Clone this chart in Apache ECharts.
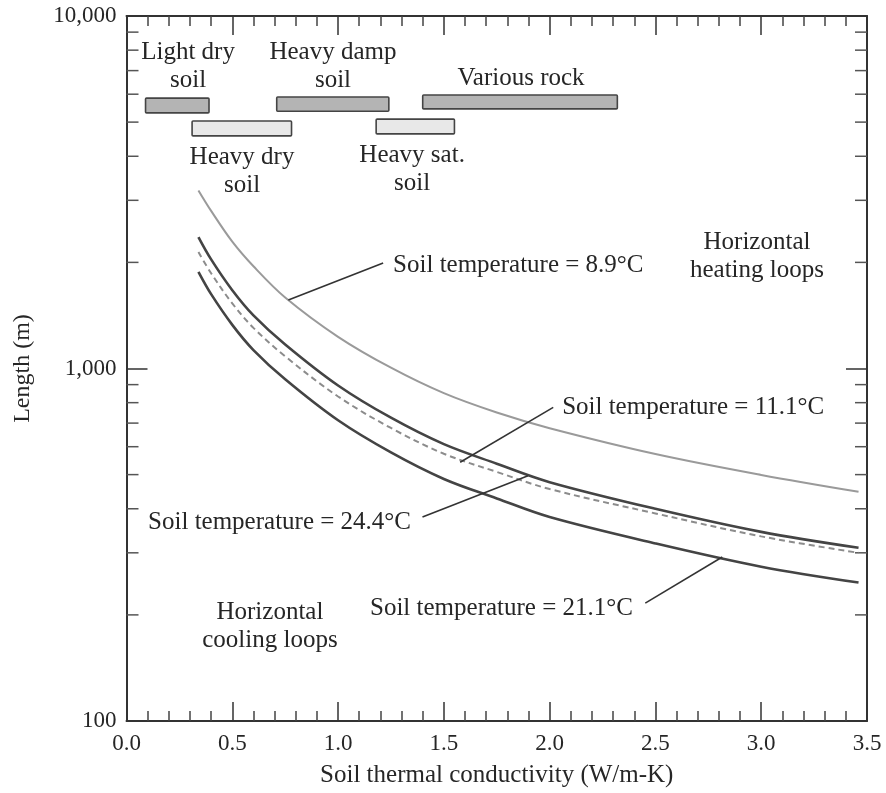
<!DOCTYPE html>
<html>
<head>
<meta charset="utf-8">
<script src="https://cdn.jsdelivr.net/npm/echarts@6/dist/echarts.min.js"></script>
<style>
  html, body { margin: 0; padding: 0; background: #fff; }
  #chart { width: 886px; height: 793px; }
</style>
</head>
<body>
<div id="chart"></div>
<script>
// conductivity (W/m-K) where the curves are read
const conductivity = [0.34, 0.4, 0.5, 0.6, 0.75, 1.0, 1.25, 1.5, 1.75, 2.0, 2.5, 3.0, 3.46];
// loop length (m) for each soil temperature
const len89 = [3200, 2800, 2290, 1950, 1590, 1230, 1005, 851, 750, 677, 572, 499, 447];
const len111 = [2360, 2040, 1668, 1415, 1170, 895, 725, 610, 537, 476, 400, 344, 310];
const len244 = [2140, 1863, 1530, 1304, 1083, 833, 678, 573, 509, 455, 388, 334, 300];
const len211 = [1880, 1625, 1330, 1128, 932, 713, 578, 486, 428, 379, 319, 274, 247];

// soil / rock conductivity ranges drawn as bars near the top
const soilStart = [0.09, 0.31, 0.71, 1.18, 1.40];
const soilEnd = [0.39, 0.78, 1.24, 1.55, 2.32];
const soilLow = [5310, 4570, 5370, 4630, 5450];
const soilHigh = [5850, 5035, 5890, 5100, 5970];
const soilDark = [true, false, true, false, true];

const yTickLabels = { 100: '100', 1000: '1,000', 10000: '10,000' };
const yMinorTicks = [200, 300, 400, 500, 600, 700, 800, 900, 2000, 3000, 4000, 5000, 6000, 7000, 8000, 9000];

// text notes: [x, y, text, align]
const notes = [
  [0.291, 7210, 'Light dry\nsoil', 'center'],
  [0.976, 7210, 'Heavy damp\nsoil', 'center'],
  [1.865, 6670, 'Various rock', 'center'],
  [0.546, 3630, 'Heavy dry\nsoil', 'center'],
  [1.350, 3680, 'Heavy sat.\nsoil', 'center'],
  [2.980, 2085, 'Horizontal\nheating loops', 'center'],
  [0.678, 186, 'Horizontal\ncooling loops', 'center'],
  [1.260, 1955, 'Soil temperature = 8.9°C', 'left'],
  [2.059, 773, 'Soil temperature = 11.1°C', 'left'],
  [0.102, 367, 'Soil temperature = 24.4°C', 'left'],
  [1.151, 209, 'Soil temperature = 21.1°C', 'left']
];

// leader lines from the notes to the curves
const leaders = [
  [[0.765, 1565], [1.213, 1992]],
  [[2.017, 776], [1.577, 542]],
  [[1.399, 379], [1.898, 496]],
  [[2.452, 216], [2.816, 292]]
];

const FONT = 'Liberation Serif';
const INK = '#262626';

const pairs = (ys) => conductivity.map((x, i) => [x, ys[i]]);

const curve = (name, ys, color, width, type) => ({
  name,
  type: 'line',
  data: pairs(ys),
  smooth: 0.35,
  symbol: 'none',
  lineStyle: { color, width, type },
  z: 3
});

const xAxisBase = {
  type: 'value',
  min: 0,
  max: 3.5,
  interval: 0.5,
  axisLine: { show: true, onZero: false, lineStyle: { color: '#333', width: 2 } },
  axisTick: { show: true, inside: true, length: 19, lineStyle: { color: '#333', width: 1.5 } },
  minorTick: { show: true, splitNumber: 5, length: 10, lineStyle: { color: '#444', width: 1.5 } },
  splitLine: { show: false }
};

const yAxisBase = {
  type: 'log',
  logBase: 10,
  min: 100,
  max: 10000,
  axisLine: { show: true, onZero: false, lineStyle: { color: '#333', width: 2 } },
  axisTick: { show: true, inside: true, length: 21, lineStyle: { color: '#333', width: 1.5 } },
  minorTick: { show: false },
  splitLine: { show: false }
};

const option = {
  animation: false,
  backgroundColor: '#fff',
  grid: { left: 126.5, right: 19, top: 16, bottom: 72 },
  xAxis: [
    Object.assign({}, xAxisBase, {
      position: 'bottom',
      name: 'Soil thermal conductivity (W/m-K)',
      nameLocation: 'middle',
      nameGap: 42,
      nameTextStyle: { fontFamily: FONT, fontSize: 25, color: INK },
      axisLabel: {
        fontFamily: FONT, fontSize: 23, color: INK, margin: 11,
        formatter: (v) => v.toFixed(1)
      }
    }),
    Object.assign({}, xAxisBase, { position: 'top', axisLabel: { show: false } })
  ],
  yAxis: [
    Object.assign({}, yAxisBase, {
      position: 'left',
      name: 'Length (m)',
      nameLocation: 'middle',
      nameGap: 92,
      nameTextStyle: { fontFamily: FONT, fontSize: 24, color: INK },
      axisLabel: {
        fontFamily: FONT, fontSize: 23, color: INK, margin: 10,
        formatter: (v) => yTickLabels[Math.round(v)] || ''
      }
    }),
    Object.assign({}, yAxisBase, { position: 'right', axisLabel: { show: false } })
  ],
  series: [
    curve('8.9', len89, '#9a9a9a', 2, 'solid'),
    curve('11.1', len111, '#444', 2.6, 'solid'),
    curve('24.4', len244, '#8c8c8c', 2, [6, 4]),
    curve('21.1', len211, '#444', 2.6, 'solid'),
    {
      // soil range bars
      type: 'custom',
      data: soilStart.map((s, i) => [s, soilEnd[i], soilLow[i], soilHigh[i], soilDark[i] ? 1 : 0]),
      renderItem: (params, api) => {
        const p0 = api.coord([api.value(0), api.value(3)]);
        const p1 = api.coord([api.value(1), api.value(2)]);
        return {
          type: 'rect',
          shape: { x: p0[0], y: p0[1], width: p1[0] - p0[0], height: p1[1] - p0[1], r: 1 },
          style: {
            fill: api.value(4) ? '#b4b4b4' : '#e8e8e8',
            stroke: '#444',
            lineWidth: 1.6
          }
        };
      },
      z: 4
    },
    {
      // log minor ticks on left and right edges
      type: 'custom',
      data: yMinorTicks.map((v) => [0, v]),
      renderItem: (params, api) => {
        const cs = params.coordSys;
        const y = api.coord([0, api.value(1)])[1];
        return {
          type: 'group',
          children: [
            { type: 'line', shape: { x1: cs.x, y1: y, x2: cs.x + 12, y2: y }, style: { stroke: '#555', lineWidth: 1.5 } },
            { type: 'line', shape: { x1: cs.x + cs.width - 12, y1: y, x2: cs.x + cs.width, y2: y }, style: { stroke: '#555', lineWidth: 1.5 } }
          ]
        };
      },
      silent: true,
      z: 2
    },
    {
      type: 'lines',
      coordinateSystem: 'cartesian2d',
      data: leaders.map((c) => ({ coords: c })),
      lineStyle: { color: '#333', width: 1.6, opacity: 1 },
      symbol: 'none',
      z: 5
    },
    {
      type: 'scatter',
      symbolSize: 0,
      itemStyle: { opacity: 1 },
      data: notes.map((n) => ({
        value: [n[0], n[1]],
        label: {
          show: true,
          position: 'inside',
          formatter: n[2],
          align: n[3],
          verticalAlign: 'middle',
          fontFamily: FONT,
          fontSize: 25,
          lineHeight: 28,
          color: INK,
          opacity: 1
        }
      })),
      silent: true,
      z: 6
    }
  ]
};

const chart = echarts.init(document.getElementById('chart'), null, { renderer: 'canvas' });
chart.setOption(option);
</script>
</body>
</html>
